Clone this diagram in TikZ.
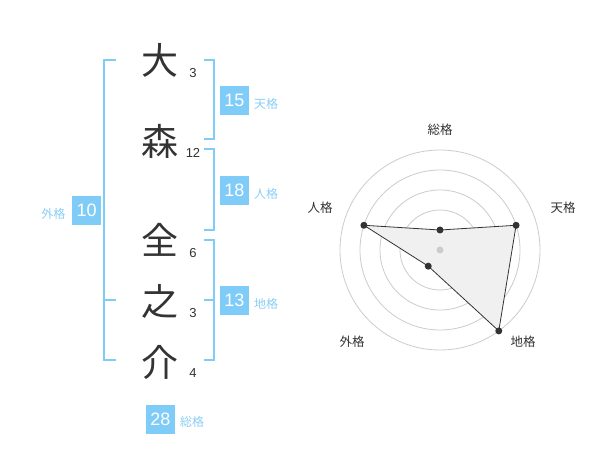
\documentclass[tikz,border=0pt]{standalone}
\usepackage{fontspec}
\usetikzlibrary{calc}
\setmainfont{Liberation Sans}
\newfontfamily\jp{Noto Sans CJK JP}
\definecolor{brk}{HTML}{80CCF8}
\definecolor{lbl}{HTML}{8ACFF5}
\definecolor{ink}{HTML}{333333}
\definecolor{ring}{HTML}{CCCCCC}
\definecolor{area}{HTML}{F0F0F0}
\tikzset{
  kanji/.style={inner sep=0pt, text=ink, font=\jp\fontsize{37}{37}\selectfont},
  strokes/.style={inner sep=0pt, text=ink, font=\fontsize{13}{13}\selectfont},
  bracket/.style={draw=brk, line width=2pt},
  scorebox/.style={fill=brk, text=white, minimum size=29pt, inner sep=0pt, font=\fontsize{18}{18}\selectfont},
  scorelbl/.style={inner sep=0pt, text=lbl, font=\jp\fontsize{12}{12}\selectfont},
  ringline/.style={draw=ring, line width=0.8pt},
  axislbl/.style={inner sep=0pt, text=ink, font=\jp\fontsize{12.5}{12.5}\selectfont},
  dot/.style={circle, fill=ink, inner sep=0pt, minimum size=7pt},
}
\begin{document}
\begin{tikzpicture}[x=1pt,y=-1pt]
\useasboundingbox (0,0) rectangle (600,470);
\fill[white] (0,0) rectangle (600,470);

% name characters
\node[kanji] (c1) at (160,60) {大};
\node[kanji] (c2) at (160,141) {森};
\node[kanji] (c3) at (160,240) {全};
\node[kanji] (c4) at (160,301) {之};
\node[kanji] (c5) at (160,362) {介};
\node[strokes] (n1) at (193,73) {3};
\node[strokes] (n2) at (193,153) {12};
\node[strokes] (n3) at (193,253) {6};
\node[strokes] (n4) at (193,313) {3};
\node[strokes] (n5) at (193,373) {4};

% brackets
\draw[bracket] (116,60) -- (104,60) -- (104,360) -- (116,360);
\draw[bracket] (104,300) -- (116,300);
\draw[bracket] (204,60) -- (214,60) -- (214,139) -- (204,139);
\draw[bracket] (204,149) -- (214,149) -- (214,230) -- (204,230);
\draw[bracket] (204,240) -- (214,240) -- (214,360) -- (204,360);
\draw[bracket] (204,300) -- (214,300);

% score boxes
\node[scorebox] (b15) at (234.5,100.5) {15};
\node[scorelbl, anchor=west] (l15) at (254,104) {天格};
\node[scorebox] (b18) at (234.5,190.5) {18};
\node[scorelbl, anchor=west] (l18) at (254,194) {人格};
\node[scorebox] (b10) at (86.7,210.5) {10};
\node[scorelbl] (l10) at (53.5,214) {外格};
\node[scorebox] (b13) at (234.5,300.5) {13};
\node[scorelbl, anchor=west] (l13) at (254,304) {地格};
\node[scorebox] (b28) at (160.5,419) {28};
\node[scorelbl, anchor=west] (l28) at (180,422) {総格};

% radar chart
\coordinate (ctr) at (440,250);
\foreach \r in {20,40,60,80,100} {
  \draw[ringline] (ctr) circle (\r pt);
}
\fill[area] ($(ctr)+(-90:20)$) -- ($(ctr)+(-18:80)$) -- ($(ctr)+(54:100)$) -- ($(ctr)+(126:20)$) -- ($(ctr)+(198:80)$) -- cycle;
\node[dot] (pT) at ($(ctr)+(-90:20)$) {};
\node[dot] (pH) at ($(ctr)+(-18:80)$) {};
\node[dot] (pC) at ($(ctr)+(54:100)$) {};
\node[dot] (pG) at ($(ctr)+(126:20)$) {};
\node[dot] (pJ) at ($(ctr)+(198:80)$) {};
\draw[ink, line width=0.8pt] (pT.center) -- (pH.center) -- (pC.center) -- (pG.center) -- (pJ.center) -- cycle;
\node[circle, fill=ring, inner sep=0pt, minimum size=7pt] (c0) at (ctr) {};

\node[axislbl] (aT) at (440,130) {総格};
\node[axislbl] (aH) at (563,208) {天格};
\node[axislbl] (aJ) at (320,208) {人格};
\node[axislbl] (aG) at (352,342) {外格};
\node[axislbl] (aC) at (523,342) {地格};
\end{tikzpicture}
\end{document}
